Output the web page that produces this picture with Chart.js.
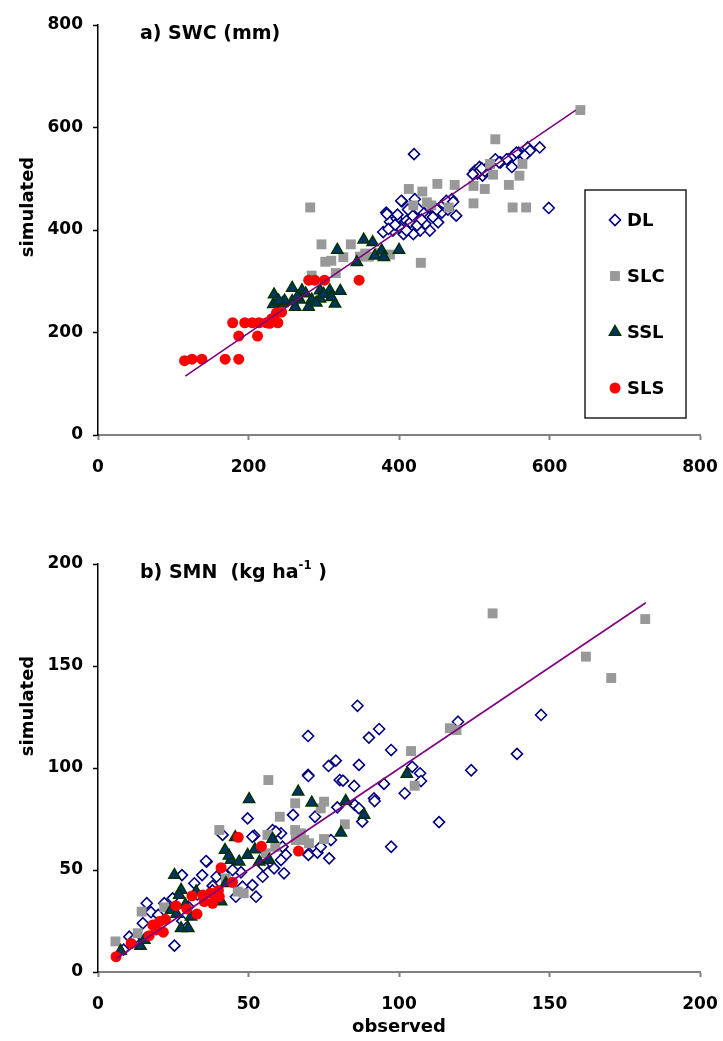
<!DOCTYPE html>
<html>
<head>
<meta charset="utf-8">
<script src="https://cdn.jsdelivr.net/npm/chart.js@4.4.1/dist/chart.umd.min.js"></script>
<style>
  html, body { margin: 0; padding: 0; background: #fff; }
  #chartA { position: absolute; left: 0; top: 0; }
  #chartB { position: absolute; left: 0; top: 500px; }
</style>
</head>
<body>
<canvas id="chartA" width="723" height="500"></canvas>
<canvas id="chartB" width="723" height="541"></canvas>
<script>
// a) SWC (mm) — [observed, simulated]
const dlA = [[501,516],[507,523],[511,506],[504,510],[514,515],[528,538],[535,532],[545,538],[550,523],[552,545],
  [559,551],[571,561],[574,555],[587,561],[567,545],[556,551],[543,538],[533,532],[520,526],[498,509],[510,520],
  [420,548],[599,443],
  [383,434],[404,456],[388,416],[397,422],[410,418],[424,422],[432,434],[448,431],[459,451],[470,460],[476,428],
  [452,415],[441,399],[428,399],[419,392],[406,392],[392,399],[379,396],[415,415],[401,405],[435,412],[457,434],
  [463,457],[410,399],[424,409],[386,402],[421,460],[403,457],[384,431],[395,410],[418,428],[430,420],[445,425],
  [465,440],[440,445],[412,440],[425,442],[398,430],[450,440],[472,455]];
const slcA = [[282,444],[297,372],[336,372],[302,338],[310,340],[326,347],[348,348],[355,354],[360,348],[388,352],
  [316,316],[284,311],[429,336],[413,480],[431,475],[451,490],[474,488],[419,448],[437,454],[443,448],[466,444],
  [641,634],[528,577],[521,529],[525,508],[564,529],[560,506],[546,488],[514,480],[499,486],[499,452],[551,444],
  [569,444],[375,355]];
const sslA = [[353,381],[365,376],[318,361],[377,360],[400,361],[368,350],[380,347],[344,337],[234,274],[258,287],
  [271,282],[295,282],[308,282],[322,281],[233,255],[245,257],[258,261],[268,264],[284,264],[280,250],[315,256],
  [310,269],[262,250],[295,266],[248,262],[276,276],[300,275],[265,270],[240,262],[290,258]];
const slsA = [[115,145],[125,148],[138,148],[169,148],[187,148],[179,219],[187,193],[195,219],[205,219],[212,193],
  [214,219],[224,219],[231,227],[239,219],[237,238],[244,240],[280,302],[288,302],[301,302],[347,302],[228,218]];
const fitA = [[116,115],[635,634]];

// b) SMN (kg ha-1) — [observed, simulated]
const dlB = [[86.2,130.5],[69.8,115.7],[93.4,119.1],[90,114.9],[97.4,108.8],[79,103.6],[76.6,101],[86.7,101.5],
  [69.8,96.6],[80.3,94.1],[81.4,93.8],[85.1,91.2],[95,92.2],[91.7,85.1],[101.9,87.6],[147.2,126],[139.2,106.9],
  [119.6,122.7],[124,98.9],[113.3,73.5],[97.4,61.4],[104.4,100.6],[107,97.4],[107.3,93.6],[69.9,96.1],[49.7,75.3],
  [64.8,77],[72.1,76.1],[79.5,80.7],[85.3,81.9],[86.7,80.2],[87.8,73.7],[60.8,68],[51.9,66.8],[58,69.6],[61.3,61.4],
  [62.4,57.4],[70.1,58.2],[72.9,58.5],[74,61.4],[76.8,55.7],[77.4,64.7],[36.1,54.1],[41.4,67.2],[25.4,12.9],
  [10.4,17.3],[14.9,23.9],[16.2,33.7],[17.6,29.3],[22,33.7],[24.8,36.1],[27.9,47.5],[32,43.5],[34.6,47.5],
  [35.9,54.4],[39.4,46.7],[38.1,42.2],[51.3,66.3],[47.5,48.9],[44.7,50],[48,41.8],[45.8,36.9],[52.5,36.9],
  [51.3,42.6],[54.7,46.7],[58.5,50.8],[60.8,54.9],[61.8,48.4],[59.1,68.8],[69.9,57.4],[91.9,83.8],[8.5,11],
  [12,16],[20,28],[30,32],[33,38],[42,48],[55,52],[38,40],[28,25]];
const slcB = [[131.1,175.8],[181.8,173],[162.1,154.6],[170.5,144.1],[116.9,119.5],[119.1,118.6],[104,108.3],
  [105.2,91.3],[56.6,94.1],[65.5,82.7],[75.1,83.5],[74,80.2],[82,72.4],[60.4,76.1],[40.3,69.6],[65.5,69.6],
  [67.4,68],[68.5,64.7],[65.7,64.7],[56.3,67.2],[75.1,65.2],[58.9,61.4],[70.1,63.1],[5.8,15],[14.5,29.6],
  [13.2,19],[22,31.7],[46.4,39.4],[48.4,38.6],[55.8,58.2],[42.5,45.9]];
const sslB = [[7.5,10.3],[14.1,12.7],[15.4,15.7],[25.4,47.5],[27.6,40.2],[27,37.7],[24.3,30.4],[26.1,28.4],
  [27.6,21.4],[30,21.4],[30.9,27.1],[32.6,39.4],[40.9,34.5],[42.5,43.5],[42.2,59.8],[44.2,54.9],[46.9,54.1],
  [45.6,66],[50.2,84.7],[49.7,57.4],[52.1,60.1],[53.6,54.1],[56.9,54.9],[58,65.2],[66.5,88.4],[71,83],[82.3,83.8],
  [88.4,77],[80.7,68.3],[102.6,97],[29,33],[43.5,57]];
const slsB = [[6,7.5],[11,14],[17,17.8],[18.2,23],[20.4,24.7],[22.4,25.8],[21.7,19.5],[19.3,20.6],[25.9,32.5],
  [29.5,30.9],[32.9,28.4],[31.2,37.3],[34.8,37.7],[35.3,34.5],[38.1,33.7],[40.3,36.9],[40,39.9],[37.5,38.6],
  [40.9,51.1],[44.7,44],[46.6,66],[54.3,61.6],[66.6,59.3]];
const fitB = [[6,6.5],[182,181]];

const seriesNames = ["DL", "SLC", "SSL", "SLS"];

const FONT = "'DejaVu Sans', sans-serif";

// marker styles, same order as seriesNames
const styles = [
  { pointStyle: 'rectRot', pointRadius: 5.5, backgroundColor: '#ffffff', borderColor: '#000080', borderWidth: 1.6, order: 4 },
  { pointStyle: 'rect', pointRadius: 7, backgroundColor: '#999999', borderColor: '#999999', borderWidth: 0, order: 3 },
  { pointStyle: 'triangle', pointRadius: 6.5, backgroundColor: '#003366', borderColor: '#003300', borderWidth: 1.5, order: 2 },
  { pointStyle: 'circle', pointRadius: 5.5, backgroundColor: '#ff0000', borderColor: '#ff0000', borderWidth: 0, order: 1 }
];

function toXY(pts) { return pts.map(p => ({ x: p[0], y: p[1] })); }

function makeDatasets(groups, fit) {
  const ds = groups.map((g, i) => Object.assign({ type: 'scatter', label: seriesNames[i], data: toXY(g),
    pointHoverRadius: styles[i].pointRadius }, styles[i]));
  ds.push({ type: 'line', label: 'fit', data: toXY(fit), borderColor: '#800080', borderWidth: 1.6,
    pointRadius: 0, fill: false, order: 0 });
  return ds;
}

function axis(max, step, isX, xHeight) {
  return {
    type: 'linear', min: 0, max: max,
    ticks: { stepSize: step, color: '#000', font: { family: FONT, size: 17, weight: 'bold' }, padding: isX ? 17 : 10 },
    grid: { drawOnChartArea: false, drawTicks: true, tickLength: 5, tickColor: isX ? '#808080' : '#000', tickWidth: isX ? 2 : 1.5 },
    border: { color: isX ? '#808080' : '#000', width: isX ? 2 : 1.5 },
    afterFit: s => {
      if (isX) { s.height = xHeight; s.paddingLeft = 0; s.paddingRight = 0; }
      else { s.width = 98; s.paddingTop = 0; s.paddingBottom = 0; }
    }
  };
}

// draws free text (titles, axis names)
const textPlugin = {
  id: 'texts',
  afterDraw(chart, args, opts) {
    const ctx = chart.ctx;
    (opts.items || []).forEach(it => {
      ctx.save();
      ctx.fillStyle = '#000';
      ctx.textBaseline = 'middle';
      ctx.translate(it.x, it.y);
      if (it.rotate) ctx.rotate(it.rotate);
      let total = 0;
      it.parts.forEach(p => {
        ctx.font = `bold ${p.sup ? it.size * 0.62 : it.size}px ${FONT}`;
        total += ctx.measureText(p.t).width;
      });
      let x = it.center ? -total / 2 : 0;
      ctx.textAlign = 'left';
      it.parts.forEach(p => {
        ctx.font = `bold ${p.sup ? it.size * 0.62 : it.size}px ${FONT}`;
        ctx.fillText(p.t, x, p.sup ? -it.size * 0.38 : 0);
        x += ctx.measureText(p.t).width;
      });
      ctx.restore();
    });
  }
};

function drawMarker(ctx, st, x, y) {
  const r = st.pointRadius;
  ctx.save();
  ctx.fillStyle = st.backgroundColor;
  ctx.strokeStyle = st.borderColor;
  ctx.lineWidth = st.borderWidth;
  ctx.beginPath();
  if (st.pointStyle === 'rectRot') {
    ctx.moveTo(x, y - r); ctx.lineTo(x + r, y); ctx.lineTo(x, y + r); ctx.lineTo(x - r, y); ctx.closePath();
  } else if (st.pointStyle === 'rect') {
    const s = r * Math.SQRT1_2;
    ctx.rect(x - s, y - s, 2 * s, 2 * s);
  } else if (st.pointStyle === 'triangle') {
    for (let k = 0; k < 3; k++) {
      const a = k * 2 * Math.PI / 3;
      const px = x + Math.sin(a) * r, py = y - Math.cos(a) * r;
      if (k === 0) ctx.moveTo(px, py); else ctx.lineTo(px, py);
    }
    ctx.closePath();
  } else {
    ctx.arc(x, y, r, 0, Math.PI * 2);
  }
  ctx.fill();
  if (st.borderWidth) ctx.stroke();
  ctx.restore();
}

// boxed legend inside chart a
const legendPlugin = {
  id: 'boxLegend',
  afterDraw(chart, args, opts) {
    if (!opts.show) return;
    const ctx = chart.ctx;
    ctx.save();
    ctx.fillStyle = '#fff';
    ctx.fillRect(585, 190, 101, 228);
    ctx.strokeStyle = '#222';
    ctx.lineWidth = 1.5;
    ctx.strokeRect(585, 190, 101, 228);
    seriesNames.forEach((name, i) => {
      const y = 220 + i * 56;
      drawMarker(ctx, styles[i], 615, y);
      ctx.fillStyle = '#000';
      ctx.font = `bold 18px ${FONT}`;
      ctx.textBaseline = 'middle';
      ctx.fillText(name, 627, y + 1);
    });
    ctx.restore();
  }
};

function makeChart(id, groups, fit, max, step, pad, xHeight, texts, legend) {
  return new Chart(document.getElementById(id), {
    type: 'scatter',
    data: { datasets: makeDatasets(groups, fit) },
    options: {
      responsive: false,
      animation: false,
      layout: { padding: { top: pad, right: 23, left: 0, bottom: 0 } },
      scales: { x: axis(max, step, true, xHeight), y: axis(max, step, false) },
      plugins: {
        legend: { display: false },
        tooltip: { enabled: false },
        texts: { items: texts },
        boxLegend: { show: legend }
      }
    },
    plugins: [textPlugin, legendPlugin]
  });
}

makeChart('chartA', [dlA, slcA, sslA, slsA], fitA, 800, 200, 25, 65, [
  { x: 140, y: 34, size: 19, parts: [{ t: 'a) SWC (mm)' }] },
  { x: 28, y: 207, size: 18, rotate: -Math.PI / 2, center: true, parts: [{ t: 'simulated' }] }
], true);

makeChart('chartB', [dlB, slcB, sslB, slsB], fitB, 200, 50, 64, 69, [
  { x: 140, y: 73, size: 19, parts: [{ t: 'b) SMN  (kg ha' }, { t: '-1', sup: true }, { t: ' )' }] },
  { x: 28, y: 206, size: 18, rotate: -Math.PI / 2, center: true, parts: [{ t: 'simulated' }] },
  { x: 399, y: 527, size: 18, center: true, parts: [{ t: 'observed' }] }
], false);
</script>
</body>
</html>
